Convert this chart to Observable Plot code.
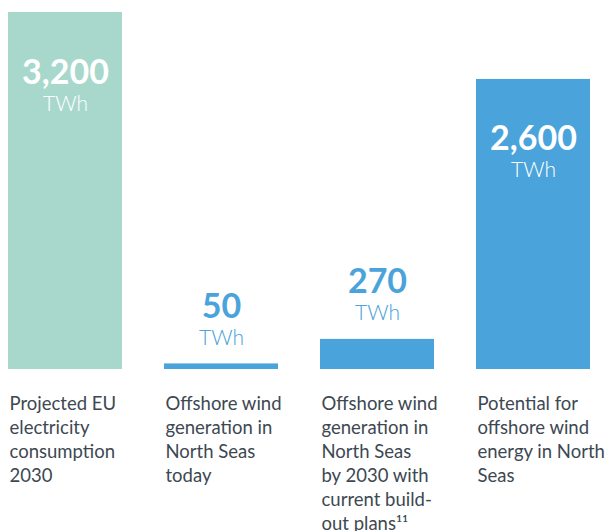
<!DOCTYPE html>
<html><head><meta charset="utf-8">
<script src="https://cdn.jsdelivr.net/npm/d3@7"></script>
<script src="https://cdn.jsdelivr.net/npm/@observablehq/plot@0.6"></script>
<style>
body{margin:0;background:#fff;}
#chart svg{display:block;}
</style></head>
<body><div id="chart"></div>
<script>
const categories = [
  "Projected EU\nelectricity\nconsumption\n2030",
  "Offshore wind\ngeneration in\nNorth Seas\ntoday",
  "Offshore wind\ngeneration in\nNorth Seas\nby 2030 with\ncurrent build-\nout plans¹¹",
  "Potential for\noffshore wind\nenergy in North\nSeas"
];
const values = [3200, 50, 270, 2600];
const groups = ["consumption", "wind", "wind", "wind"];
const unit = "TWh";

const data = categories.map((c, i) => ({cat: c, value: values[i], group: groups[i], inside: values[i] > 1000}));
const fmt = d3.format(",");
const teal = "#a8d8cc", blue = "#4aa3da";
const font = "Lato, 'Open Sans', sans-serif";

const chart = Plot.plot({
  width: 615,
  height: 531,
  marginTop: 12,
  marginBottom: 162,
  marginLeft: 8,
  marginRight: 25,
  style: {fontFamily: font, background: "#fff"},
  x: {domain: categories, paddingInner: 0.27, paddingOuter: 0, axis: null},
  y: {domain: [0, 3200], axis: null},
  color: {domain: ["consumption", "wind"], range: [teal, blue]},
  marks: [
    Plot.barY(data, {x: "cat", y: "value", fill: "group"}),
    // number labels
    Plot.text(data, {x: "cat", y: "value", text: d => fmt(d.value),
      fontSize: 34, fontWeight: 700,
      fill: d => d.inside ? "#fff" : blue,
      lineAnchor: "bottom"}),
    // unit labels
    Plot.text(data, {x: "cat", y: "value", text: () => unit,
      fontSize: 21, fontWeight: 300,
      fill: d => d.inside ? "#fff" : blue,
      lineAnchor: "bottom"}),
    // category labels
    Plot.text(data, {x: "cat", y: () => 0, text: "cat",
      textAnchor: "start", lineAnchor: "top", dx: -56, dy: 23,
      fontSize: 18.5, lineHeight: 1.3, fill: "#3d4852"})
  ]
});

// adjust label offsets (inside vs above the bar)
const texts = chart.querySelectorAll("g[aria-label='text']");
function shift(g, insideDy, outsideDy) {
  g.querySelectorAll("text").forEach((t, i) => {
    const d = data[i];
    const dy = d.inside ? insideDy : outsideDy;
    const tr = t.getAttribute("transform") || "";
    t.setAttribute("transform", tr + ` translate(0,${dy})`);
  });
}
shift(texts[0], 71, -46);
shift(texts[1], 98, -19);
document.getElementById("chart").appendChild(chart);
</script>
</body></html>
